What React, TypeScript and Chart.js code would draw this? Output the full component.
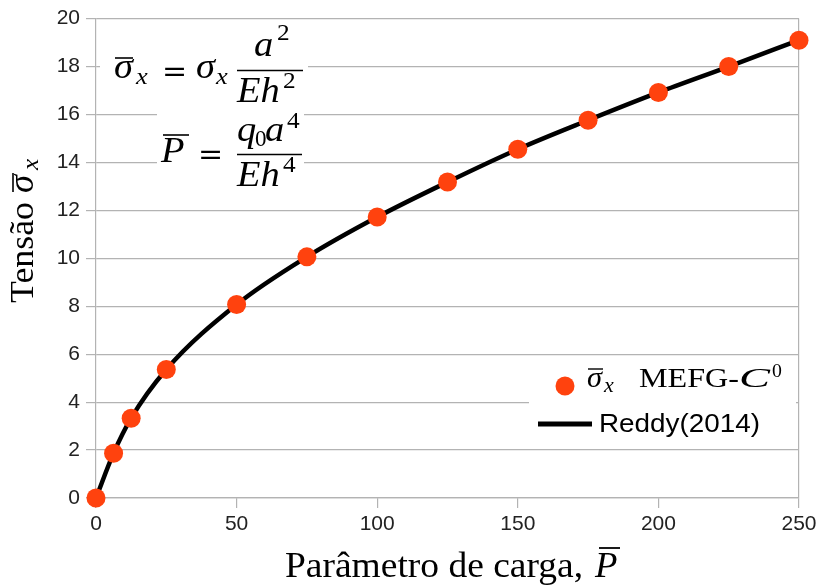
import React, { useEffect, useRef } from "react";
import { Chart, registerables } from "chart.js";

Chart.register(...registerables);

const cargaP = [0, 6.25, 12.5, 25, 50, 75, 100, 125, 150, 175, 200, 225, 250];
const mefgSigma = [0, 1.87, 3.33, 5.36, 8.07, 10.06, 11.72, 13.18, 14.55, 15.76, 16.92, 18.0, 19.1];
const reddySigma = [0, 1.87, 3.33, 5.36, 8.07, 10.06, 11.72, 13.18, 14.55, 15.76, 16.92, 18.0, 19.1];
const xTickValues = [0, 50, 100, 150, 200, 250];
const yTickValues = [0, 2, 4, 6, 8, 10, 12, 14, 16, 18, 20];

const GRID = "#b3b3b3";
const RED = "#ff420e";
const SERIF = "'Liberation Serif', 'DejaVu Serif', serif";
const SANS = "'Liberation Sans', Arial, sans-serif";

function t(ctx: CanvasRenderingContext2D, s: string, x: number, y: number, font: string, sx = 1) {
  ctx.font = font;
  ctx.save();
  ctx.translate(x, y);
  ctx.scale(sx, 1);
  ctx.fillText(s, 0, 0);
  ctx.restore();
}
function fit(ctx: CanvasRenderingContext2D, s: string, x: number, y: number, font: string, width: number) {
  ctx.font = font;
  const w = ctx.measureText(s).width;
  t(ctx, s, x, y, font, width / w);
}
function hline(ctx: CanvasRenderingContext2D, x1: number, x2: number, y: number, w: number) {
  ctx.save();
  ctx.strokeStyle = "#000";
  ctx.lineWidth = w;
  ctx.beginPath();
  ctx.moveTo(x1, y);
  ctx.lineTo(x2, y);
  ctx.stroke();
  ctx.restore();
}

const decorPlugin = {
  id: "decor",
  afterDraw(chart: any) {
    const ctx: CanvasRenderingContext2D = chart.ctx;
    ctx.save();
    // white boxes behind formulas and legend
    ctx.fillStyle = "#fff";
    ctx.fillRect(100, 22, 208, 84);
    ctx.fillRect(157, 107, 147, 84);
    ctx.fillRect(529, 360, 267, 82);

    ctx.fillStyle = "#000";
    ctx.textAlign = "left";
    ctx.textBaseline = "alphabetic";
    const I = `italic 35px ${SERIF}`;
    const SUP = `23px ${SERIF}`;
    const ISUB = `italic 24px ${SERIF}`;
    const EQ = `30px 'DejaVu Serif', serif`;
    const S = 1.1;

    // formula 1
    t(ctx, "σ", 114, 78, I, S);
    hline(ctx, 115, 133, 58, 1.6);
    t(ctx, "x", 136, 84, ISUB, S);
    t(ctx, "=", 162, 81, EQ);
    t(ctx, "σ", 196, 78, I, S);
    t(ctx, "x", 216, 84, ISUB, S);
    hline(ctx, 237, 303, 70.5, 1.5);
    t(ctx, "a", 254, 56, I, S);
    t(ctx, "2", 277, 40, SUP, 1.1);
    t(ctx, "Eh", 237, 102, I, S);
    t(ctx, "2", 283, 88, SUP, 1.1);

    // formula 2
    t(ctx, "P", 161, 162, I, S);
    hline(ctx, 163, 189, 135, 1.6);
    t(ctx, "=", 198, 164, EQ);
    hline(ctx, 237, 302, 154.5, 1.5);
    t(ctx, "q", 237, 141, I, S);
    t(ctx, "0", 255, 146, SUP, 1.0);
    t(ctx, "a", 265, 141, I, S);
    t(ctx, "4", 287, 128, SUP, 1.1);
    t(ctx, "Eh", 237, 186, I, S);
    t(ctx, "4", 283, 172, SUP, 1.1);

    // legend
    ctx.fillStyle = RED;
    ctx.beginPath();
    ctx.arc(565, 386, 9.5, 0, Math.PI * 2);
    ctx.fill();
    ctx.fillStyle = "#000";
    t(ctx, "σ", 587, 387, `italic 29px ${SERIF}`, 1.05);
    hline(ctx, 588, 603, 369, 1.4);
    t(ctx, "x", 604, 392, `italic 20px ${SERIF}`, 1.1);
    fit(ctx, "MEFG-", 639, 387, `27px ${SERIF}`, 100);
    fit(ctx, "C", 739, 387, `italic 27px ${SERIF}`, 31);
    t(ctx, "0", 772, 377, `18px ${SERIF}`, 1.1);
    ctx.save();
    ctx.strokeStyle = "#000";
    ctx.lineWidth = 5;
    ctx.beginPath();
    ctx.moveTo(538, 424);
    ctx.lineTo(592, 424);
    ctx.stroke();
    ctx.restore();
    fit(ctx, "Reddy(2014)", 599, 432, `26px ${SANS}`, 161);

    // x title
    fit(ctx, "Parâmetro de carga,", 285, 577, `35px ${SERIF}`, 298);
    t(ctx, "P", 595, 577, `italic 35px ${SERIF}`, 1.05);
    hline(ctx, 599, 620, 548, 1.8);

    // y title
    ctx.save();
    ctx.translate(33, 303);
    ctx.rotate(-Math.PI / 2);
    fit(ctx, "Tensão", 0, 0, `34px ${SERIF}`, 101);
    t(ctx, "σ", 110, 0, I, 1.05);
    hline(ctx, 111, 130, -20, 1.6);
    t(ctx, "x", 133, 5, ISUB, 1.05);
    ctx.restore();

    ctx.restore();
  },
};

export default function App() {
  const ref = useRef<HTMLCanvasElement | null>(null);
  useEffect(() => {
    if (!ref.current) return;
    const chart = new Chart(ref.current, {
      type: "scatter",
      data: {
        datasets: [
          {
            label: "Reddy(2014)",
            data: cargaP.map((x, i) => ({ x, y: reddySigma[i] })),
            showLine: true,
            borderColor: "#000",
            borderWidth: 4.5,
            pointRadius: 0,
            cubicInterpolationMode: "monotone",
            clip: false,
            order: 2,
          } as any,
          {
            label: "σx MEFG-C0",
            data: cargaP.map((x, i) => ({ x, y: mefgSigma[i] })),
            showLine: false,
            backgroundColor: RED,
            borderWidth: 0,
            pointRadius: 9.5,
            clip: false,
            order: 1,
          } as any,
        ],
      },
      options: {
        animation: false,
        responsive: false,
        devicePixelRatio: 1,
        layout: { padding: { left: 0, top: 17, right: 25, bottom: 0 } },
        plugins: { legend: { display: false }, tooltip: { enabled: false } },
        scales: {
          x: {
            type: "linear",
            min: 0,
            max: 250,
            afterFit: (s: any) => { s.height = 88; },
            afterBuildTicks: (s: any) => { s.ticks = xTickValues.map((v) => ({ value: v })); },
            ticks: { font: { family: SANS, size: 21 }, color: "#222", padding: 4, maxRotation: 0 },
            grid: {
              color: (c: any) => (c.tick && c.tick.value === 250 ? GRID : "rgba(0,0,0,0)"),
              tickColor: GRID,
              tickLength: 10,
              lineWidth: 1.2,
            },
            border: { display: true, color: GRID, width: 1.2 },
          },
          y: {
            type: "linear",
            min: 0,
            max: 20,
            afterFit: (s: any) => { s.width = 96; },
            afterBuildTicks: (s: any) => { s.ticks = yTickValues.map((v) => ({ value: v })); },
            ticks: { font: { family: SANS, size: 21 }, color: "#222", padding: 6 },
            grid: { color: GRID, tickColor: GRID, tickLength: 10, lineWidth: 1.2 },
            border: { display: true, color: GRID, width: 1.2 },
          },
        },
      },
      plugins: [decorPlugin],
    } as any);
    return () => chart.destroy();
  }, []);
  return (
    <div style={{ position: "fixed", left: 0, top: 0, width: 824, height: 586, background: "#fff" }}>
      <canvas ref={ref} width={824} height={586} style={{ display: "block" }} />
    </div>
  );
}
